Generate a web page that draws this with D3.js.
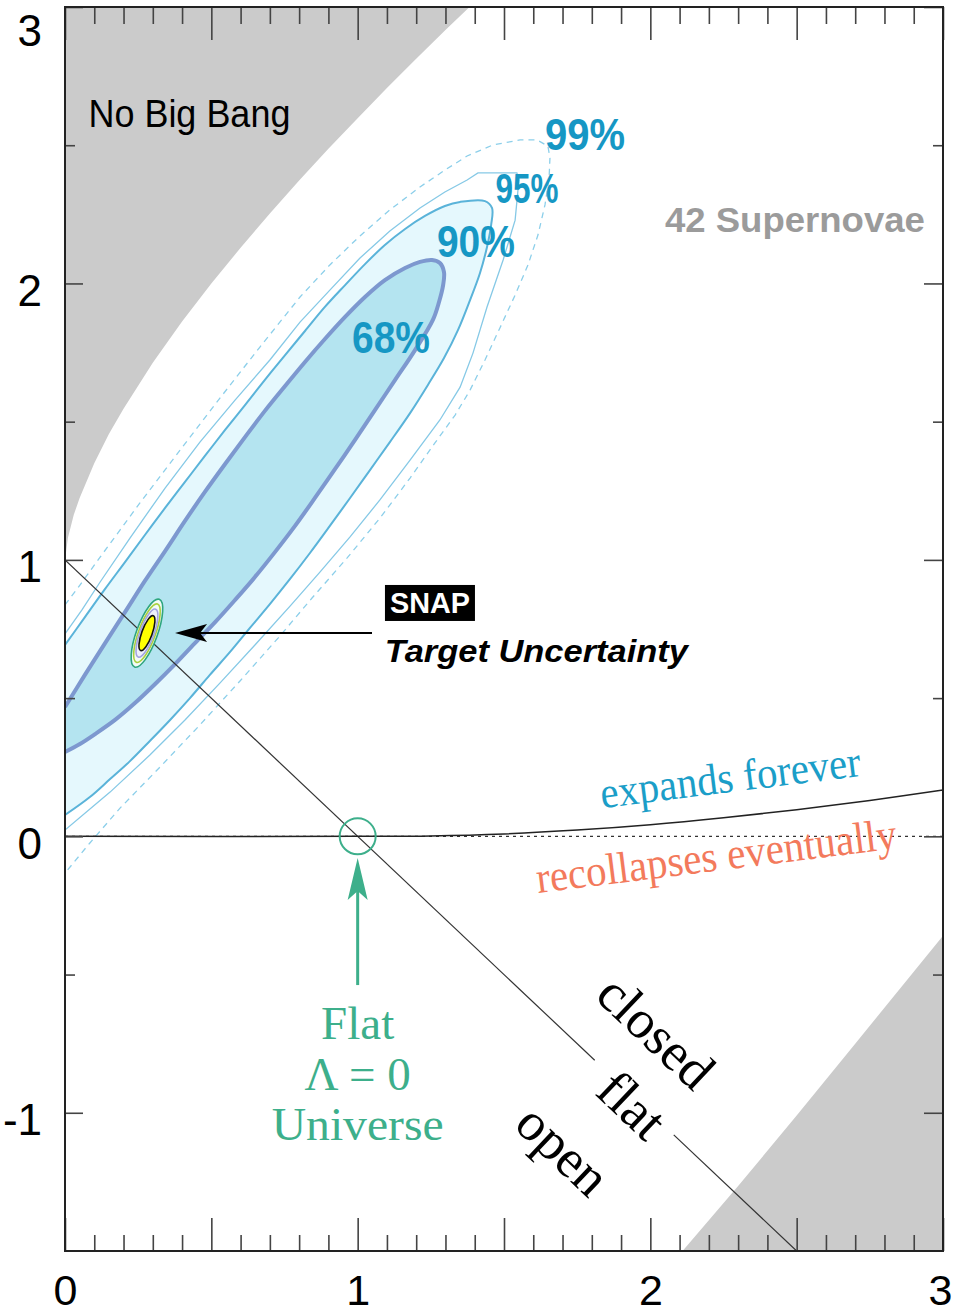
<!DOCTYPE html>
<html><head><meta charset="utf-8">
<script src="https://cdn.jsdelivr.net/npm/d3@7"></script>
<style>body{margin:0;background:#fff}svg{display:block}</style>
</head><body>
<svg id="c" width="953" height="1314"></svg>
<script>
// ---------- DATA (Omega_M , Omega_Lambda) ----------
const xTickMajor = [0, 0.5, 1, 1.5, 2, 2.5, 3];
const xTickMinor = [0.1,0.2,0.3,0.4,0.6,0.7,0.8,0.9,1.1,1.2,1.3,1.4,1.6,1.7,1.8,1.9,2.1,2.2,2.3,2.4,2.6,2.7,2.8,2.9];
const yTickMajor = [-1, 0, 1, 2, 3];
const yTickMinor = [-0.5, 0.5, 1.5, 2.5];
const xTickLabels = [0, 1, 2, 3];
const yTickLabels = [-1, 0, 1, 2, 3];

// "No Big Bang" boundary
const noBangM = [0, 0.01, 0.03, 0.05, 0.1, 0.15, 0.2, 0.3, 0.4, 0.5, 0.6, 0.7, 0.8, 0.9, 1.0, 1.1, 1.2, 1.3, 1.4];
const noBangL = [1.0, 1.08, 1.163, 1.224, 1.35, 1.455, 1.547, 1.713, 1.862, 2.0, 2.129, 2.253, 2.372, 2.487, 2.598, 2.707, 2.813, 2.917, 3.018];

// lower-right excluded region boundary
const lowM = [2.11, 2.3, 2.5, 2.7, 2.9, 3.0];
const lowL = [-1.5, -1.265, -1.01, -0.75, -0.49, -0.36];

// expands forever / recollapses boundary
const expM = [0, 1, 1.25, 1.5, 1.75, 2, 2.25, 2.5, 2.75, 3];
const expL = [0, 0, 0.0015, 0.0086, 0.0225, 0.042, 0.067, 0.096, 0.130, 0.168];

// flat universe line
const flatM = [0, 2.5];
const flatL = [1, -1.5];
const flatGapM = [1.81, 2.08];

// 42 supernovae confidence contours
const c68M = [0,0.068,0.137,0.205,0.273,0.342,0.410,0.478,0.547,0.615,0.683,0.752,0.820,0.888,0.957,1.025,1.093,1.162,1.213,1.254,1.281,1.295,1.292,1.278,1.257,1.196,1.128,1.059,0.991,0.923,0.854,0.786,0.718,0.649,0.581,0.513,0.444,0.376,0.308,0.239,0.171,0.103,0.051,0];
const c68L = [0.468,0.584,0.699,0.811,0.924,1.032,1.141,1.246,1.347,1.444,1.539,1.629,1.716,1.799,1.879,1.951,2.012,2.056,2.078,2.085,2.074,2.041,1.994,1.933,1.868,1.759,1.651,1.542,1.434,1.329,1.224,1.123,1.029,0.938,0.855,0.775,0.699,0.623,0.551,0.482,0.421,0.370,0.334,0.305];

const c90M = [0,0.068,0.137,0.205,0.273,0.342,0.410,0.478,0.547,0.615,0.683,0.752,0.820,0.888,0.957,1.025,1.093,1.162,1.230,1.298,1.350,1.435,1.459,1.456,1.442,1.418,1.384,1.343,1.295,1.240,1.179,1.110,1.042,0.974,0.905,0.837,0.769,0.700,0.632,0.564,0.495,0.427,0.359,0.290,0.222,0.154,0.085,0];
const c90L = [0.692,0.793,0.895,0.992,1.090,1.188,1.282,1.376,1.470,1.560,1.651,1.741,1.828,1.915,1.994,2.070,2.139,2.197,2.244,2.280,2.295,2.298,2.273,2.211,2.132,2.038,1.940,1.832,1.730,1.633,1.531,1.426,1.325,1.224,1.123,1.025,0.931,0.840,0.754,0.667,0.584,0.500,0.421,0.345,0.272,0.207,0.142,0.077];

const c95M = [0,0.058,0.120,0.222,0.342,0.461,0.581,0.700,0.803,0.905,1.008,1.110,1.213,1.298,1.374,1.411,1.544,1.551,1.538,1.497,1.442,1.394,1.350,1.281,1.179,1.076,0.974,0.871,0.769,0.649,0.530,0.410,0.290,0.154,0];
const c95L = [0.732,0.819,0.920,1.079,1.260,1.426,1.578,1.723,1.860,1.976,2.092,2.190,2.273,2.331,2.374,2.400,2.400,2.374,2.229,2.085,1.915,1.748,1.625,1.506,1.361,1.217,1.083,0.956,0.833,0.692,0.555,0.421,0.294,0.160,0.023];

const c99M = [0,0.051,0.120,0.256,0.393,0.530,0.666,0.803,0.905,1.008,1.110,1.213,1.298,1.374,1.462,1.555,1.613,1.650,1.657,1.654,1.640,1.616,1.582,1.538,1.486,1.435,1.384,1.333,1.264,1.179,1.076,0.964,0.844,0.728,0.598,0.461,0.325,0.188,0.085,0];
const c99L = [0.837,0.909,1.010,1.206,1.397,1.586,1.770,1.951,2.067,2.172,2.266,2.349,2.410,2.461,2.501,2.519,2.519,2.497,2.454,2.381,2.284,2.175,2.067,1.958,1.839,1.723,1.614,1.524,1.423,1.296,1.151,1.007,0.862,0.717,0.562,0.403,0.251,0.102,-0.024,-0.133];

// SNAP target
const snapCenter = [0.28, 0.735];
const flatLambda0 = [1, 0];

// ---------- DRAW ----------
const svg = d3.select("#c");
const x = d3.scaleLinear().domain([0, 3]).range([65, 943]);
const y = d3.scaleLinear().domain([-1.5, 3]).range([1251, 7]);
const sans = "'Liberation Sans', Arial, Helvetica, sans-serif";
const serif = "'Liberation Serif', 'Times New Roman', serif";

const zip = (a, b) => a.map((v, i) => [v, b[i]]);
const lin = d3.line().x(d => x(d[0])).y(d => y(d[1]));
const smooth = d3.line().x(d => x(d[0])).y(d => y(d[1])).curve(d3.curveCatmullRom.alpha(0.5));

svg.append("defs").append("clipPath").attr("id", "plot")
  .append("rect").attr("x", x(0)).attr("y", y(3)).attr("width", x(3) - x(0)).attr("height", y(-1.5) - y(3));

const P = svg.append("g").attr("clip-path", "url(#plot)");

// grey regions
P.append("path").attr("d", lin(zip(noBangM, noBangL).concat([[0, 3]])) + "Z").attr("fill", "#cbcbcb");
P.append("path").attr("d", lin(zip(lowM, lowL).concat([[3, -1.5]])) + "Z").attr("fill", "#cbcbcb");

// contour fills
P.append("path").attr("d", smooth(zip(c90M, c90L)) + "Z").attr("fill", "#e5f8fd");
P.append("path").attr("d", smooth(zip(c68M, c68L)) + "Z").attr("fill", "#b4e4f0");

// contour lines
P.append("path").attr("d", lin(zip(c99M, c99L))).attr("fill", "none").attr("stroke", "#8ccfea").attr("stroke-width", 1.3).attr("stroke-dasharray", "6,5");
P.append("path").attr("d", lin(zip(c95M, c95L))).attr("fill", "none").attr("stroke", "#86c9e6").attr("stroke-width", 1.3);
P.append("path").attr("d", smooth(zip(c90M, c90L))).attr("fill", "none").attr("stroke", "#5ab3d9").attr("stroke-width", 2);
P.append("path").attr("d", smooth(zip(c68M, c68L))).attr("fill", "none").attr("stroke", "#7d98cf").attr("stroke-width", 4);

// flat line with a gap for the label
const flatAt = m => [m, flatL[0] + (flatL[1] - flatL[0]) * (m - flatM[0]) / (flatM[1] - flatM[0])];
P.append("path").attr("d", lin([flatAt(flatM[0]), flatAt(flatGapM[0])])).attr("stroke", "#333").attr("stroke-width", 1.2).attr("fill", "none");
P.append("path").attr("d", lin([flatAt(flatGapM[1]), flatAt(flatM[1])])).attr("stroke", "#333").attr("stroke-width", 1.2).attr("fill", "none");

// Lambda = 0 dotted line and expansion boundary
P.append("path").attr("d", lin([[0, 0], [3, 0]])).attr("stroke", "#333").attr("stroke-width", 1.3).attr("stroke-dasharray", "3,4").attr("fill", "none");
P.append("path").attr("d", smooth(zip(expM, expL))).attr("stroke", "#222").attr("stroke-width", 1.5).attr("fill", "none");

// green circle at flat Lambda=0
const green = "#3daf8b";
P.append("circle").attr("cx", x(flatLambda0[0])).attr("cy", y(flatLambda0[1])).attr("r", 18)
  .attr("fill", "none").attr("stroke", green).attr("stroke-width", 2);

// green arrow
{
  const ax = x(1), tipY = y(-0.078), baseY = y(-0.538);
  P.append("line").attr("x1", ax).attr("x2", ax).attr("y1", baseY).attr("y2", tipY + 30).attr("stroke", green).attr("stroke-width", 3);
  P.append("path").attr("d", `M${ax},${tipY} L${ax + 10},${tipY + 42} L${ax},${tipY + 33} L${ax - 10},${tipY + 42} Z`).attr("fill", green);
}

// black arrow
{
  const tipX = x(0.376), endX = x(1.049), ay = y(0.7355);
  P.append("line").attr("x1", tipX + 25).attr("x2", endX).attr("y1", ay).attr("y2", ay).attr("stroke", "#000").attr("stroke-width", 2);
  P.append("path").attr("d", `M${tipX},${ay} L${tipX + 32},${ay - 9} L${tipX + 25},${ay} L${tipX + 32},${ay + 9} Z`).attr("fill", "#000");
}

// SNAP ellipse
{
  const g = P.append("g").attr("transform", `translate(${x(snapCenter[0])},${y(snapCenter[1])}) rotate(20)`);
  g.append("ellipse").attr("rx", 10.5).attr("ry", 36).attr("fill", "#f3fbf6").attr("stroke", "#2fa67e").attr("stroke-width", 1.6);
  g.append("ellipse").attr("rx", 8.5).attr("ry", 31).attr("fill", "none").attr("stroke", "#a9d03f").attr("stroke-width", 1.6);
  g.append("ellipse").attr("rx", 7).attr("ry", 25.5).attr("fill", "#eef0fb").attr("stroke", "#a3a3e2").attr("stroke-width", 1.6);
  g.append("ellipse").attr("rx", 5.2).attr("ry", 18.5).attr("fill", "#ffff00").attr("stroke", "#111").attr("stroke-width", 1.6);
}

// ---------- TEXT ----------
const T = svg.append("g");
function txt(m, l, s, o) {
  const t = T.append("text").attr("x", x(m)).attr("y", y(l)).text(s)
    .attr("font-family", o.family || sans).attr("font-size", o.size).attr("fill", o.fill || "#000")
    .attr("text-anchor", o.anchor || "start");
  if (o.weight) t.attr("font-weight", o.weight);
  if (o.style) t.attr("font-style", o.style);
  if (o.len) t.attr("textLength", o.len).attr("lengthAdjust", "spacingAndGlyphs");
  if (o.rot) t.attr("transform", `rotate(${o.rot},${x(m)},${y(l)})`);
  if (o.db) t.attr("dominant-baseline", o.db);
  return t;
}
txt(0.08, 2.566, "No Big Bang", {size: 38, len: 202});
txt(2.494, 2.186, "42 Supernovae", {size: 35, weight: "bold", fill: "#9b9b9b", anchor: "middle", len: 260});

const pc = "#1697c4";
txt(1.777, 2.483, "99%", {size: 44, weight: "bold", fill: pc, anchor: "middle", len: 80});
txt(1.579, 2.291, "95%", {size: 42, weight: "bold", fill: pc, anchor: "middle", len: 63});
txt(1.404, 2.096, "90%", {size: 44, weight: "bold", fill: pc, anchor: "middle", len: 78});
txt(1.114, 1.748, "68%", {size: 44, weight: "bold", fill: pc, anchor: "middle", len: 78});

// SNAP box
{
  const t = txt(1.247, 0.808, "SNAP", {size: 30, weight: "bold", fill: "#fff", anchor: "middle", len: 80});
  const bb = t.node().getBBox();
  T.insert("rect", "text").attr("x", bb.x - 5).attr("y", bb.y - 1).attr("width", bb.width + 10).attr("height", bb.height + 3).attr("fill", "#000");
  t.raise();
}
txt(1.093, 0.631, "Target Uncertainty", {size: 32, weight: "bold", style: "italic", len: 303});

txt(1.835, 0.102, "expands forever", {family: serif, size: 44, fill: "#1b9ec8", rot: -7.1, len: 262});
txt(1.616, -0.205, "recollapses eventually", {family: serif, size: 44, fill: "#f37a5c", rot: -7.1, len: 363});

txt(1.0, -0.733, "Flat", {family: serif, size: 47, fill: green, anchor: "middle"});
txt(1.0, -0.918, "\u039B = 0", {family: serif, size: 47, fill: green, anchor: "middle"});
txt(1.0, -1.099, "Universe", {family: serif, size: 47, fill: green, anchor: "middle", len: 172});

txt(2.019, -0.708, "closed", {family: serif, size: 54, anchor: "middle", rot: 43.4, db: "central"});
txt(1.937, -0.972, "flat", {family: serif, size: 54, anchor: "middle", rot: 43.4, db: "central"});
txt(1.702, -1.135, "open", {family: serif, size: 54, anchor: "middle", rot: 43.4, db: "central"});

// ---------- AXES ----------
function styleTicks(g) {
  g.select(".domain").remove();
  g.selectAll(".tick line").attr("stroke", "#444").attr("stroke-width", 1.6);
}
const A = svg.append("g");
A.append("g").attr("transform", `translate(0,${y(-1.5)})`).call(d3.axisBottom(x).tickValues(xTickMinor).tickSize(-16).tickSizeOuter(0).tickFormat("")).call(styleTicks);
A.append("g").attr("transform", `translate(0,${y(-1.5)})`).call(d3.axisBottom(x).tickValues(xTickMajor).tickSize(-33).tickSizeOuter(0).tickFormat("")).call(styleTicks);
A.append("g").attr("transform", `translate(0,${y(3)})`).call(d3.axisTop(x).tickValues(xTickMinor).tickSize(-17).tickSizeOuter(0).tickFormat("")).call(styleTicks);
A.append("g").attr("transform", `translate(0,${y(3)})`).call(d3.axisTop(x).tickValues(xTickMajor).tickSize(-33).tickSizeOuter(0).tickFormat("")).call(styleTicks);
A.append("g").attr("transform", `translate(${x(0)},0)`).call(d3.axisLeft(y).tickValues(yTickMajor).tickSize(-18).tickSizeOuter(0).tickFormat("")).call(styleTicks);
A.append("g").attr("transform", `translate(${x(0)},0)`).call(d3.axisLeft(y).tickValues(yTickMinor).tickSize(-10).tickSizeOuter(0).tickFormat("")).call(styleTicks);
A.append("g").attr("transform", `translate(${x(3)},0)`).call(d3.axisRight(y).tickValues(yTickMajor).tickSize(-19).tickSizeOuter(0).tickFormat("")).call(styleTicks);
A.append("g").attr("transform", `translate(${x(3)},0)`).call(d3.axisRight(y).tickValues(yTickMinor).tickSize(-10).tickSizeOuter(0).tickFormat("")).call(styleTicks);

// labels
const xl = A.append("g").attr("transform", `translate(0,${y(-1.5)})`)
  .call(d3.axisBottom(x).tickValues(xTickLabels).tickSize(0).tickPadding(23).tickFormat(d => String(d)));
xl.select(".domain").remove();
xl.attr("font-size", 43).attr("font-family", sans);
xl.selectAll("text").attr("fill", "#000");
xl.selectAll(".tick").filter(d => d === 3).select("text").attr("x", -3);

const yl = A.append("g").attr("transform", `translate(${x(0)},0)`)
  .call(d3.axisLeft(y).tickValues(yTickLabels).tickSize(0).tickPadding(23).tickFormat(d => String(d)));
yl.select(".domain").remove();
yl.attr("font-size", 44).attr("font-family", sans);
yl.selectAll("text").attr("fill", "#000").attr("y", d => d === 3 ? 24 : 8);

// frame
A.append("rect").attr("x", x(0)).attr("y", y(3)).attr("width", x(3) - x(0)).attr("height", y(-1.5) - y(3))
  .attr("fill", "none").attr("stroke", "#222").attr("stroke-width", 2);
</script>
</body></html>
